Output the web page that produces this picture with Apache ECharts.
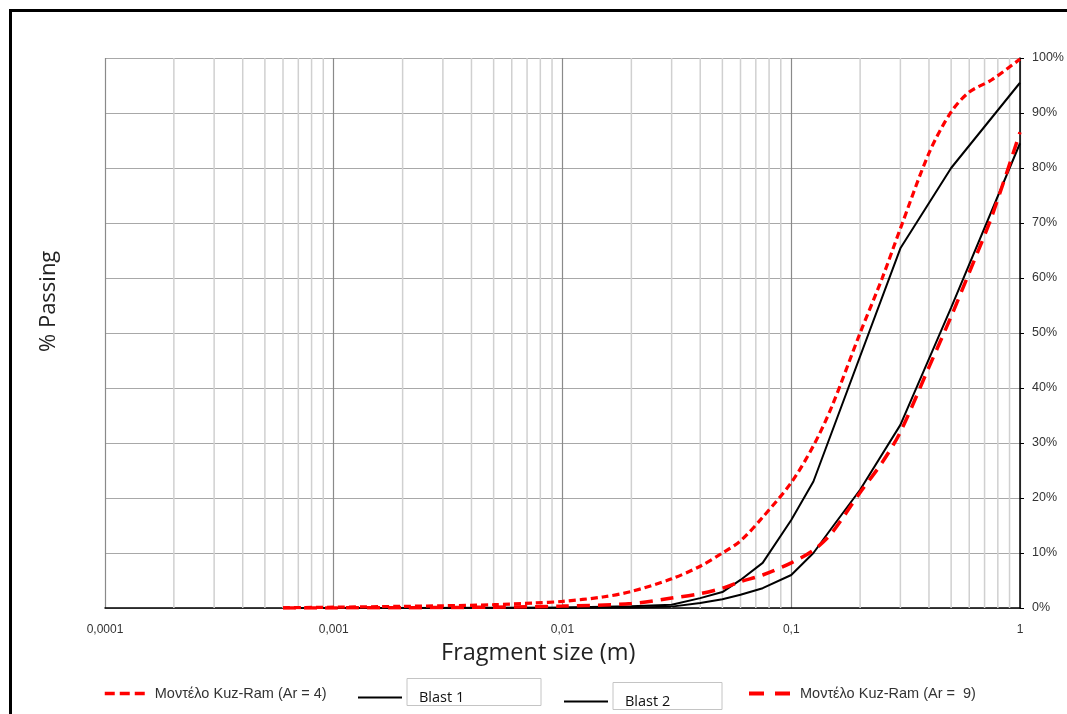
<!DOCTYPE html>
<html>
<head>
<meta charset="utf-8">
<title>Fragment size distribution</title>
<script src="https://cdn.jsdelivr.net/npm/echarts@6/dist/echarts.min.js"></script>
<style>
  html, body { margin: 0; padding: 0; background: #fff; }
  #chart { width: 1067px; height: 714px; }
</style>
</head>
<body>
<div id="chart"></div>
<script>
// Fragment size (m) and cumulative % passing for each curve
const sizesKR4 = [0.0006, 0.001, 0.002, 0.003, 0.005, 0.0075, 0.01, 0.015, 0.02, 0.03, 0.04, 0.05, 0.06, 0.075, 0.1, 0.125, 0.15, 0.2, 0.25, 0.3, 0.4, 0.5, 0.6, 0.75, 1];
const passingKR4 = [0.05, 0.15, 0.3, 0.4, 0.6, 0.9, 1.2, 2.0, 3.0, 5.3, 7.6, 10.0, 12.2, 16.5, 22.8, 29.5, 36.5, 50, 60, 69, 82.7, 90.2, 93.8, 96, 99.8];

const sizesBlast1 = [0.0006, 0.001, 0.002, 0.005, 0.01, 0.02, 0.03, 0.04, 0.05, 0.06, 0.075, 0.1, 0.125, 0.3, 0.5, 1];
const passingBlast1 = [0, 0, 0, 0.05, 0.1, 0.3, 0.6, 1.8, 2.9, 5.1, 8.2, 16, 23, 65.4, 80, 95.5];

const sizesBlast2 = [0.0006, 0.001, 0.005, 0.01, 0.02, 0.03, 0.04, 0.05, 0.06, 0.075, 0.1, 0.125, 0.15, 0.2, 0.3, 0.5, 1];
const passingBlast2 = [0, 0, 0, 0.05, 0.1, 0.25, 0.9, 1.6, 2.4, 3.6, 6, 10, 14.5, 21.5, 33.3, 54.6, 84.5];

const sizesKR9 = [0.0006, 0.001, 0.002, 0.005, 0.01, 0.02, 0.03, 0.04, 0.05, 0.06, 0.075, 0.1, 0.125, 0.15, 0.2, 0.25, 0.3, 0.4, 0.5, 0.6, 0.75, 1];
const passingKR9 = [0, 0.02, 0.05, 0.15, 0.35, 0.8, 1.8, 2.6, 3.6, 4.8, 6, 8.2, 10.5, 13.6, 21, 26.5, 32, 43.8, 53, 61, 71, 86.5];

const xTickValues = [0.0001, 0.001, 0.01, 0.1, 1];
const yTickLabels = ['0%', '10%', '20%', '30%', '40%', '50%', '60%', '70%', '80%', '90%', '100%'];

const nameKR4 = 'Μοντέλο Kuz-Ram (Ar = 4)';
const nameB1 = 'Blast 1';
const nameB2 = 'Blast 2';
const nameKR9 = 'Μοντέλο Kuz-Ram (Ar =  9)';

function pairs(xs, ys) { return xs.map((x, i) => [x, ys[i]]); }

// minor log grid lines: 2..9 inside each decade
const minorLines = [];
for (let d = 0; d < xTickValues.length - 1; d++) {
  for (let k = 2; k <= 9; k++) minorLines.push([xTickValues[d] * k, 0]);
}

function fmtSize(v) {
  const e = Math.round(Math.log10(v));
  if (e >= 0) return String(Math.round(v));
  return v.toFixed(-e).replace('.', ',');
}

const chart = echarts.init(document.getElementById('chart'), null, { renderer: 'canvas' });

// legend labels drawn inside bordered text boxes
function boxRich(w) {
  return {
    box: {
      width: w, height: 16, lineHeight: 16,
      padding: [11, 0, 0, 12],
      borderColor: '#c4c4c4', borderWidth: 1,
      fontSize: 14.5, color: '#111', fontFamily: '"Open Sans", "Noto Sans", sans-serif',
      verticalAlign: 'bottom'
    }
  };
}

const legendText = { fontSize: 14.5, color: '#333', padding: [0, 0, 0, 5], fontFamily: 'Arial, "Liberation Sans", sans-serif' };
const hiddenSymbol = { opacity: 0 };

chart.setOption({
  animation: false,
  backgroundColor: '#fff',
  grid: { left: 105, right: 47, top: 58, bottom: 106, containLabel: false },
  xAxis: {
    type: 'log', logBase: 10, min: 0.0001, max: 1,
    axisLine: { show: true, lineStyle: { color: '#000', width: 1.5 } },
    axisTick: { show: false },
    axisLabel: {
      color: '#333', fontSize: 12, margin: 16,
      fontFamily: 'Arial, "Liberation Sans", sans-serif',
      formatter: fmtSize
    },
    splitLine: { show: true, lineStyle: { color: '#8a8a8a', width: 1.2 } }
  },
  yAxis: {
    type: 'value', position: 'right', min: 0, max: 100, interval: 10,
    axisLine: { show: true, lineStyle: { color: '#000', width: 1.5 } },
    axisTick: { show: true, inside: false, length: 4, lineStyle: { color: '#000' } },
    axisLabel: {
      color: '#333', fontSize: 12.5, margin: 12,
      fontFamily: 'Arial, "Liberation Sans", sans-serif',
      formatter: (v) => yTickLabels[Math.round(v / 10)]
    },
    splitLine: { show: true, lineStyle: { color: '#a8a8a8', width: 1.2 } }
  },
  legend: [
    {
      data: [nameKR4], left: 103, top: 686, padding: 0, itemWidth: 40, itemHeight: 14,
      itemStyle: hiddenSymbol, lineStyle: { width: 3.5, type: [10, 5] },
      textStyle: legendText
    },
    {
      data: [nameB1], left: 357, top: 678, padding: 0, itemWidth: 44, itemHeight: 14,
      itemStyle: hiddenSymbol,
      formatter: (n) => '{box|' + n + '}',
      textStyle: { rich: boxRich(122) }
    },
    {
      data: [nameB2], left: 563, top: 682, padding: 0, itemWidth: 44, itemHeight: 14,
      itemStyle: hiddenSymbol,
      formatter: (n) => '{box|' + n + '}',
      textStyle: { rich: boxRich(97) }
    },
    {
      data: [nameKR9], left: 747, top: 686, padding: 0, itemWidth: 41, itemHeight: 14,
      itemStyle: hiddenSymbol, lineStyle: { width: 4, type: [15, 11] },
      textStyle: legendText
    }
  ],
  graphic: [
    {
      type: 'rect', silent: true, z: 100,
      shape: { x: 10.5, y: 10.5, width: 1100, height: 800 },
      style: { fill: 'none', stroke: '#000', lineWidth: 3 }
    },
    {
      type: 'text', left: 441, top: 641, silent: true,
      style: { text: 'Fragment size (m)', fontSize: 23.5, fill: '#222', fontFamily: '"Open Sans", "Noto Sans", sans-serif' }
    },
    {
      type: 'text', x: 38, y: 352, rotation: Math.PI / 2, silent: true,
      style: { text: '% Passing', fontSize: 22, fill: '#222', fontFamily: '"Open Sans", "Noto Sans", sans-serif', textVerticalAlign: 'top' }
    }
  ],
  series: [
    {
      name: 'minor-grid', type: 'custom', silent: true, z: 1,
      data: minorLines,
      encode: { x: 0, y: 1 },
      renderItem: (params, api) => {
        const v = api.value(0);
        const p0 = api.coord([v, 0]);
        const p1 = api.coord([v, 100]);
        return {
          type: 'line',
          shape: { x1: p0[0], y1: p0[1], x2: p1[0], y2: p1[1] },
          style: { stroke: '#d0d0d0', lineWidth: 1.5 }
        };
      }
    },
    {
      name: nameKR4, type: 'line', data: pairs(sizesKR4, passingKR4), z: 4,
      symbol: 'none', smooth: 0.3,
      lineStyle: { color: '#ff0000', width: 3.2, type: [7, 4] },
      itemStyle: { color: '#ff0000' }
    },
    {
      name: nameB1, type: 'line', data: pairs(sizesBlast1, passingBlast1), z: 3,
      symbol: 'none',
      lineStyle: { color: '#000', width: 2 },
      itemStyle: { color: '#000' }
    },
    {
      name: nameB2, type: 'line', data: pairs(sizesBlast2, passingBlast2), z: 3,
      symbol: 'none',
      lineStyle: { color: '#000', width: 2 },
      itemStyle: { color: '#000' }
    },
    {
      name: nameKR9, type: 'line', data: pairs(sizesKR9, passingKR9), z: 4,
      symbol: 'none', smooth: 0.3,
      lineStyle: { color: '#ff0000', width: 3.5, type: [13, 8] },
      itemStyle: { color: '#ff0000' }
    }
  ]
});
</script>
</body>
</html>
